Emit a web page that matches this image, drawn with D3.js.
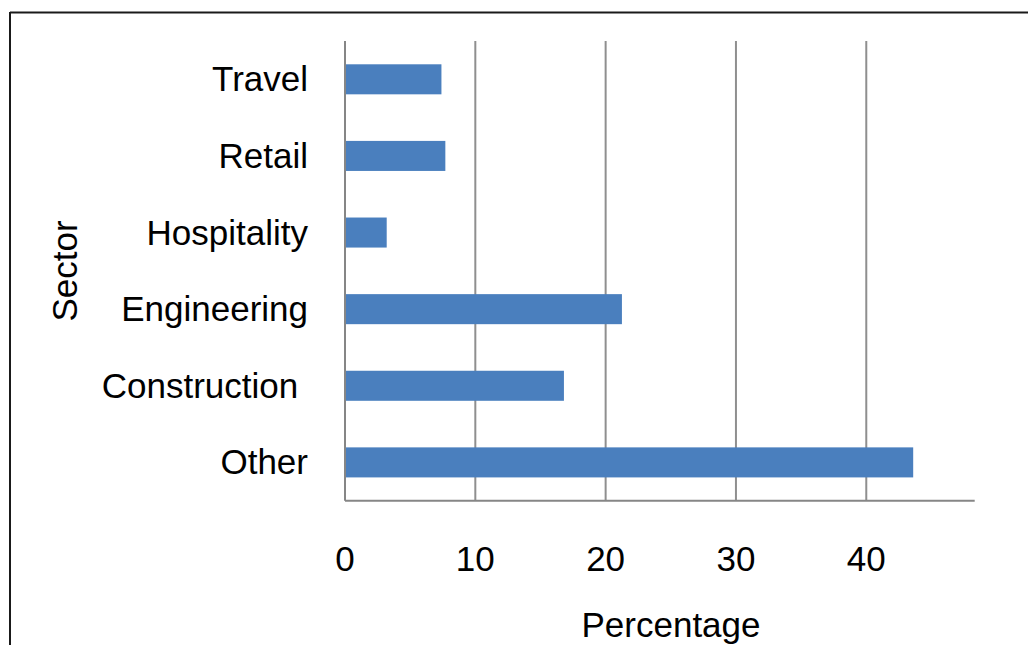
<!DOCTYPE html>
<html>
<head>
<meta charset="utf-8">
<script src="https://cdn.jsdelivr.net/npm/d3@7"></script>
<style>
  html, body { margin: 0; padding: 0; background: #fff; }
  svg { display: block; }
  text { font-family: "Liberation Sans Narrow", "Liberation Sans", Arial, sans-serif; fill: #000; }
</style>
</head>
<body>
<svg id="chart" width="1028" height="645"></svg>
<script>
const categories = ["Travel", "Retail", "Hospitality", "Engineering", "Construction ", "Other"];
const percentages = [7.4, 7.7, 3.2, 21.25, 16.8, 43.6];
const xTicks = [0, 10, 20, 30, 40];
const xLabel = "Percentage";
const yLabel = "Sector";

const svg = d3.select("#chart");
const pLeft = 345, pRight = 974.7, pTop = 41, pBottom = 500.7;

const x = d3.scaleLinear().domain([0, 48.32]).range([pLeft, pRight]);
const y = d3.scaleBand().domain(categories).range([pTop, pBottom]).paddingInner(0.608).paddingOuter(0.304);

// frame lines
svg.append("line").attr("x1", 10).attr("x2", 1028).attr("y1", 12.5).attr("y2", 12.5)
  .attr("stroke", "#1a1a1a").attr("stroke-width", 2);
svg.append("line").attr("x1", 10).attr("x2", 10).attr("y1", 12).attr("y2", 645)
  .attr("stroke", "#1a1a1a").attr("stroke-width", 2);

// gridlines
svg.append("g").selectAll("line").data(xTicks.filter(d => d > 0)).join("line")
  .attr("x1", d => x(d)).attr("x2", d => x(d)).attr("y1", pTop).attr("y2", pBottom)
  .attr("stroke", "#8f8f8f").attr("stroke-width", 2);

// bars
svg.append("g").selectAll("rect").data(categories).join("rect")
  .attr("x", x(0)).attr("y", d => y(d))
  .attr("width", (d, i) => x(percentages[i]) - x(0))
  .attr("height", y.bandwidth())
  .attr("fill", "#4a7fbe");

// axes lines
svg.append("line").attr("x1", pLeft).attr("x2", pLeft).attr("y1", pTop).attr("y2", pBottom)
  .attr("stroke", "#868686").attr("stroke-width", 2);
svg.append("line").attr("x1", pLeft).attr("x2", pRight).attr("y1", pBottom).attr("y2", pBottom)
  .attr("stroke", "#868686").attr("stroke-width", 2);

// x tick labels
svg.append("g").selectAll("text").data(xTicks).join("text")
  .attr("x", d => x(d)).attr("y", 571)
  .attr("text-anchor", "middle").attr("font-size", 35)
  .text(d => d);

// y category labels
svg.append("g").selectAll("text").data(categories).join("text")
  .attr("x", 308).attr("y", d => y(d) + y.bandwidth() / 2 + 12)
  .attr("text-anchor", "end").attr("font-size", 35)
  .style("white-space", "pre")
  .text(d => d);

// axis titles
svg.append("text").attr("x", 671).attr("y", 637)
  .attr("text-anchor", "middle").attr("font-size", 35).text(xLabel);
svg.append("text").attr("transform", "translate(77,271) rotate(-90)")
  .attr("text-anchor", "middle").attr("font-size", 35).text(yLabel);
</script>
</body>
</html>
